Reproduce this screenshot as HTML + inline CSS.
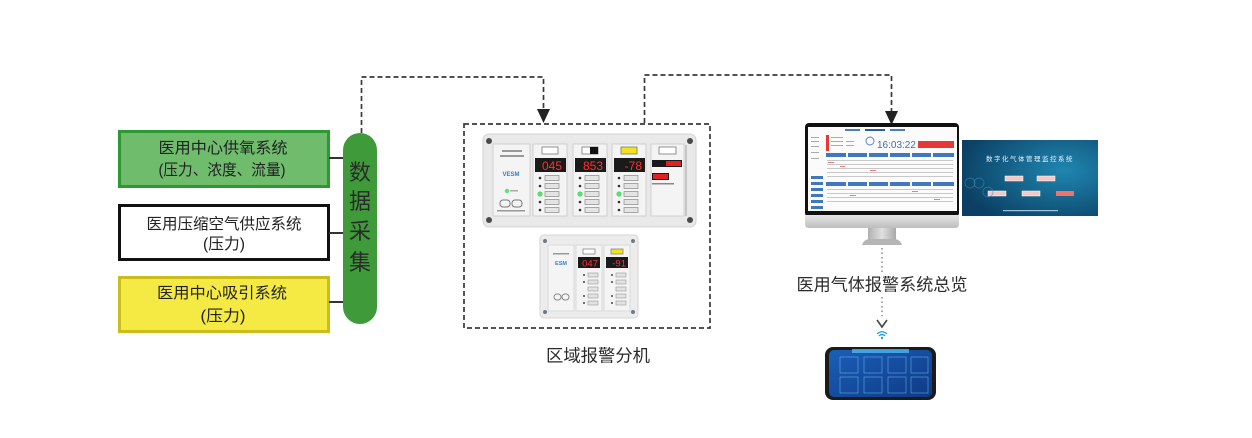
<!DOCTYPE html>
<html><head><meta charset="utf-8"><style>
html,body{margin:0;padding:0;background:#fff;}
svg{display:block;}
text{font-family:"Liberation Sans","Noto Sans CJK SC",sans-serif;}
</style></head><body>
<svg width="1252" height="438" viewBox="0 0 1252 438" xmlns="http://www.w3.org/2000/svg">
<defs>
<linearGradient id="chin" x1="0" y1="0" x2="0" y2="1"><stop offset="0" stop-color="#e6e6e6"/><stop offset="1" stop-color="#bdbdbd"/></linearGradient>
<linearGradient id="neck" x1="0" y1="0" x2="1" y2="0"><stop offset="0" stop-color="#b0b0b0"/><stop offset=".5" stop-color="#e0e0e0"/><stop offset="1" stop-color="#a8a8a8"/></linearGradient>
<radialGradient id="bluep" cx="0.75" cy="0.4" r="0.8"><stop offset="0" stop-color="#1f86b0"/><stop offset="1" stop-color="#0b3f63"/></radialGradient>
<linearGradient id="phone" x1="0" y1="0" x2="1" y2="1"><stop offset="0" stop-color="#1b5fb8"/><stop offset="1" stop-color="#0e3a86"/></linearGradient>
</defs>
<rect width="1252" height="438" fill="#fff"/>

<!-- left boxes -->
<rect x="119.5" y="131.5" width="209" height="55" fill="#6ebc6c" stroke="#2c9a31" stroke-width="3"/>
<text x="223" y="153" font-size="15.5" fill="#222" text-anchor="middle" textLength="129" lengthAdjust="spacingAndGlyphs">医用中心供氧系统</text>
<text x="222" y="175" font-size="15.5" fill="#222" text-anchor="middle" textLength="127" lengthAdjust="spacingAndGlyphs">(压力、浓度、流量)</text>

<rect x="119.5" y="205.5" width="209" height="54" fill="#fff" stroke="#111" stroke-width="3"/>
<text x="224" y="229" font-size="15.5" fill="#222" text-anchor="middle" textLength="155" lengthAdjust="spacingAndGlyphs">医用压缩空气供应系统</text>
<text x="224" y="249" font-size="15.5" fill="#222" text-anchor="middle" textLength="42" lengthAdjust="spacingAndGlyphs">(压力)</text>

<rect x="119.5" y="277.5" width="209" height="54" fill="#f4ea43" stroke="#cbbd1a" stroke-width="3"/>
<text x="222" y="298" font-size="15.5" fill="#222" text-anchor="middle" textLength="130" lengthAdjust="spacingAndGlyphs">医用中心吸引系统</text>
<text x="223" y="321" font-size="15.5" fill="#222" text-anchor="middle" textLength="45" lengthAdjust="spacingAndGlyphs">(压力)</text>

<!-- connectors -->
<g stroke="#333" stroke-width="2">
<line x1="329" y1="158" x2="344" y2="158"/>
<line x1="329" y1="233" x2="344" y2="233"/>
<line x1="329" y1="302" x2="344" y2="302"/>
</g>

<!-- pill -->
<rect x="343" y="133" width="34" height="191" rx="17" fill="#3f9b3a"/>
<g font-size="22" fill="#2a2a2a" text-anchor="middle">
<text x="360" y="180">数</text>
<text x="360" y="209">据</text>
<text x="360" y="239">采</text>
<text x="360" y="270">集</text>
</g>

<!-- dashed lines -->
<g fill="none" stroke="#3a3a3a" stroke-width="1.7" stroke-dasharray="5 3">
<polyline points="361.5,133 361.5,77 543.5,77 543.5,110"/>
<polyline points="644.5,123 644.5,75 891.5,75 891.5,112"/>
<rect x="464" y="124" width="246" height="204"/>
</g>
<polygon points="537,109 550,109 543.5,123" fill="#222"/>
<polygon points="885,111 898,111 891.5,125" fill="#222"/>

<!-- big alarm panel -->
<rect x="483" y="134" width="213" height="93" rx="6" fill="#e9e9e9" stroke="#d2d2d2"/>
<g fill="#4a4a4a"><circle cx="489" cy="141" r="3"/><circle cx="690" cy="141" r="3"/><circle cx="489" cy="220" r="3"/><circle cx="690" cy="220" r="3"/></g>
<rect x="493" y="144" width="37" height="72" fill="#f4f4f4" stroke="#d0d0d0"/>
<rect x="502" y="150" width="20" height="2" fill="#999"/>
<rect x="500" y="155" width="24" height="2" fill="#999"/>
<text x="511" y="176" font-size="6" fill="#2f7fd0" text-anchor="middle" font-weight="bold">VESM</text>
<circle cx="507" cy="191" r="2.2" fill="#5fe07a"/>
<rect x="510" y="190" width="8" height="1.5" fill="#aaa"/>
<rect x="500" y="200" width="10" height="7" rx="3" fill="none" stroke="#777"/>
<rect x="512" y="200" width="10" height="7" rx="3" fill="none" stroke="#777"/>
<rect x="497" y="210" width="28" height="1.5" fill="#999"/>

<g>
<rect x="533" y="144" width="34" height="72" fill="#f4f4f4" stroke="#d0d0d0"/>
<rect x="542" y="147" width="16" height="7" fill="#fff" stroke="#777" stroke-width=".8"/>
<rect x="535" y="158" width="31" height="14" fill="#1a1a1a"/>
<text x="562" y="170" font-size="12" fill="#ff3030" text-anchor="end" font-family="Liberation Mono">045</text>
<rect x="573" y="144" width="34" height="72" fill="#f4f4f4" stroke="#d0d0d0"/>
<rect x="582" y="147" width="16" height="7" fill="#fff" stroke="#777" stroke-width=".8"/>
<rect x="590" y="147" width="8" height="7" fill="#111"/>
<rect x="575" y="158" width="31" height="14" fill="#1a1a1a"/>
<text x="603" y="170" font-size="12" fill="#ff3030" text-anchor="end" font-family="Liberation Mono">853</text>
<rect x="612" y="144" width="34" height="72" fill="#f4f4f4" stroke="#d0d0d0"/>
<rect x="621" y="147" width="16" height="7" fill="#f3e21b" stroke="#777" stroke-width=".8"/>
<rect x="614" y="158" width="31" height="14" fill="#1a1a1a"/>
<text x="642" y="170" font-size="12" fill="#ff3030" text-anchor="end" font-family="Liberation Mono">-78</text>
<rect x="651" y="144" width="33" height="72" fill="#f4f4f4" stroke="#d0d0d0"/>
<rect x="659" y="147" width="17" height="7" fill="#fff" stroke="#777" stroke-width=".8"/>
<rect x="652" y="160" width="30" height="7" fill="#1a1a1a"/>
<rect x="666" y="161" width="15" height="5" fill="#e02020"/>
<rect x="652" y="173" width="17" height="7" fill="#1a1a1a"/>
<rect x="653" y="174" width="15" height="5" fill="#e02020"/>
<rect x="652" y="183" width="22" height="1.5" fill="#888"/>
<line x1="686" y1="145" x2="686" y2="216" stroke="#c6c6c6" stroke-width="2"/>
</g>
<g fill="#333">
<circle cx="540" cy="178" r="1.3"/><circle cx="540" cy="186" r="1.3"/><circle cx="540" cy="202" r="1.3"/><circle cx="540" cy="210" r="1.3"/>
<circle cx="580" cy="178" r="1.3"/><circle cx="580" cy="186" r="1.3"/><circle cx="580" cy="202" r="1.3"/><circle cx="580" cy="210" r="1.3"/>
<circle cx="619" cy="178" r="1.3"/><circle cx="619" cy="186" r="1.3"/><circle cx="619" cy="202" r="1.3"/><circle cx="619" cy="210" r="1.3"/>
</g>
<g fill="#52e06e"><circle cx="540" cy="194" r="2.6"/><circle cx="580" cy="194" r="2.6"/><circle cx="619" cy="194" r="2.6"/></g>
<g fill="#e4e4e4" stroke="#888" stroke-width=".7">
<rect x="545" y="175.5" width="14" height="5"/><rect x="545" y="183.5" width="14" height="5"/><rect x="545" y="191.5" width="14" height="5"/><rect x="545" y="199.5" width="14" height="5"/><rect x="545" y="207.5" width="14" height="5"/>
<rect x="585" y="175.5" width="14" height="5"/><rect x="585" y="183.5" width="14" height="5"/><rect x="585" y="191.5" width="14" height="5"/><rect x="585" y="199.5" width="14" height="5"/><rect x="585" y="207.5" width="14" height="5"/>
<rect x="624" y="175.5" width="14" height="5"/><rect x="624" y="183.5" width="14" height="5"/><rect x="624" y="191.5" width="14" height="5"/><rect x="624" y="199.5" width="14" height="5"/><rect x="624" y="207.5" width="14" height="5"/>
</g>

<!-- small alarm panel -->
<rect x="540" y="235" width="98" height="83" rx="4" fill="#ececec" stroke="#d4d4d4"/>
<g fill="#6a7a8a"><circle cx="545" cy="241" r="2"/><circle cx="633" cy="241" r="2"/><circle cx="545" cy="312" r="2"/><circle cx="633" cy="312" r="2"/></g>
<rect x="548" y="245" width="26" height="66" fill="#f4f4f4" stroke="#dadada"/>
<rect x="553" y="253" width="16" height="1.5" fill="#999"/>
<text x="561" y="265" font-size="5.5" fill="#2f7fd0" text-anchor="middle" font-weight="bold">ESM</text>
<rect x="554" y="294" width="7" height="6" rx="3" fill="none" stroke="#888"/>
<rect x="562" y="294" width="7" height="6" rx="3" fill="none" stroke="#888"/>
<rect x="576" y="245" width="26" height="66" fill="#f4f4f4" stroke="#dadada"/>
<rect x="604" y="245" width="26" height="66" fill="#f4f4f4" stroke="#dadada"/>
<rect x="583" y="249" width="12" height="5" fill="#fff" stroke="#777" stroke-width=".7"/>
<rect x="611" y="249" width="12" height="5" fill="#f3e21b" stroke="#777" stroke-width=".7"/>
<rect x="578" y="257" width="22" height="11" fill="#1a1a1a"/>
<text x="598" y="266.5" font-size="9.5" fill="#ff3030" text-anchor="end" font-family="Liberation Mono">047</text>
<rect x="606" y="257" width="22" height="11" fill="#1a1a1a"/>
<text x="626" y="266.5" font-size="9.5" fill="#ff3030" text-anchor="end" font-family="Liberation Mono">-91</text>
<g fill="#e2e2e2" stroke="#999" stroke-width=".6">
<rect x="588" y="273" width="10" height="4"/><rect x="588" y="280" width="10" height="4"/><rect x="588" y="287" width="10" height="4"/><rect x="588" y="294" width="10" height="4"/><rect x="588" y="301" width="10" height="4"/>
<rect x="616" y="273" width="10" height="4"/><rect x="616" y="280" width="10" height="4"/><rect x="616" y="287" width="10" height="4"/><rect x="616" y="294" width="10" height="4"/><rect x="616" y="301" width="10" height="4"/>
</g>
<g fill="#444"><circle cx="584" cy="275" r="1"/><circle cx="584" cy="282" r="1"/><circle cx="584" cy="296" r="1"/><circle cx="584" cy="303" r="1"/><circle cx="612" cy="275" r="1"/><circle cx="612" cy="282" r="1"/><circle cx="612" cy="296" r="1"/><circle cx="612" cy="303" r="1"/></g>

<text x="598" y="361.5" font-size="17" fill="#2a2a2a" text-anchor="middle" textLength="104" lengthAdjust="spacingAndGlyphs">区域报警分机</text>

<!-- monitor -->
<rect x="805" y="123" width="154" height="94" rx="4" fill="#111"/>
<rect x="808" y="127" width="149" height="84" fill="#fbfbfb"/>
<path d="M805 215 H959 V224 Q959 228 955 228 H809 Q805 228 805 224 Z" fill="url(#chin)"/>
<rect x="868" y="228" width="28" height="12" fill="url(#neck)"/>
<path d="M862 245 Q864 239 870 239 H894 Q900 239 902 245 Z" fill="#b5b5b5"/>
<!-- screen content -->
<rect x="845" y="129" width="15" height="2" fill="#4a7fc0"/>
<rect x="865" y="129" width="20" height="2" fill="#2a5fa0"/>
<rect x="890" y="129" width="15" height="2" fill="#4a7fc0"/>
<rect x="826" y="135" width="3" height="16" fill="#e53935"/>
<g fill="#aaa"><rect x="811" y="137" width="8" height="1"/><rect x="811" y="141" width="8" height="1"/><rect x="811" y="146" width="8" height="1"/><rect x="811" y="152" width="8" height="1"/><rect x="811" y="158" width="8" height="1"/>
<rect x="831" y="137" width="12" height="1"/><rect x="831" y="141" width="12" height="1"/><rect x="831" y="145" width="12" height="1"/><rect x="846" y="141" width="8" height="1"/><rect x="846" y="145" width="8" height="1"/></g>
<g fill="#3f78c0"><rect x="811" y="176" width="12" height="3"/><rect x="811" y="182" width="12" height="3"/><rect x="811" y="188" width="12" height="3"/><rect x="811" y="194" width="12" height="3"/><rect x="811" y="200" width="12" height="3"/><rect x="811" y="206" width="12" height="3"/></g>
<circle cx="870" cy="141" r="4" fill="none" stroke="#4a7fc0" stroke-width=".9"/>
<text x="877" y="148" font-size="10" fill="#3a6fb0">16:03:22</text>
<rect x="918" y="141" width="36" height="7" fill="#e53935"/>
<g fill="#3f78c0">
<rect x="826" y="153" width="20" height="4"/><rect x="848" y="153" width="19" height="4"/><rect x="869" y="153" width="19" height="4"/><rect x="890" y="153" width="20" height="4"/><rect x="912" y="153" width="19" height="4"/><rect x="933" y="153" width="21" height="4"/>
<rect x="826" y="182" width="20" height="4"/><rect x="848" y="182" width="19" height="4"/><rect x="869" y="182" width="19" height="4"/><rect x="890" y="182" width="20" height="4"/><rect x="912" y="182" width="19" height="4"/><rect x="933" y="182" width="21" height="4"/>
</g>
<g fill="#c8c8c8">
<rect x="827" y="160" width="126" height="1"/><rect x="827" y="164" width="126" height="1"/><rect x="827" y="168" width="126" height="1"/><rect x="827" y="172" width="126" height="1"/><rect x="827" y="176" width="126" height="1"/>
<rect x="827" y="189" width="126" height="1"/><rect x="827" y="193" width="126" height="1"/><rect x="827" y="197" width="126" height="1"/><rect x="827" y="201" width="126" height="1"/>
</g>
<g fill="#e58080"><rect x="828" y="162" width="6" height="1"/><rect x="840" y="166" width="5" height="1"/><rect x="870" y="170" width="6" height="1"/><rect x="912" y="191" width="6" height="1"/><rect x="850" y="195" width="6" height="1"/><rect x="934" y="199" width="6" height="1"/></g>

<!-- blue system panel -->
<rect x="962" y="140" width="136" height="76" fill="url(#bluep)"/>
<text x="1030" y="161" font-size="6.5" fill="#e8f4ff" text-anchor="middle" font-family="Liberation Serif,Noto Serif CJK SC,serif" letter-spacing="1.5">数字化气体管理监控系统</text>
<g fill="#f3c9c4" stroke="#fff" stroke-width=".5">
<rect x="1005" y="176" width="18" height="5"/><rect x="1037" y="176" width="18" height="5"/>
<rect x="988" y="191" width="18" height="5"/><rect x="1022" y="191" width="18" height="5"/>
</g>
<rect x="1056" y="191" width="18" height="5" fill="#f07268"/>
<g fill="none" stroke="#3d8fb5" stroke-width=".7" opacity=".7">
<circle cx="970" cy="183" r="5"/><circle cx="979" cy="183" r="5"/><circle cx="988" cy="192" r="5"/>
</g>
<rect x="1003" y="210" width="55" height="1.2" fill="#9cc4dc"/>

<!-- monitor label -->
<text x="882" y="290.5" font-size="17" fill="#2a2a2a" text-anchor="middle" textLength="171" lengthAdjust="spacingAndGlyphs">医用气体报警系统总览</text>

<!-- dotted line -->
<line x1="882" y1="248" x2="882" y2="273" stroke="#888" stroke-width="1.5" stroke-dasharray="1.5 3"/>
<line x1="882" y1="297" x2="882" y2="316" stroke="#888" stroke-width="1.5" stroke-dasharray="1.5 3"/>
<polyline points="877,320 882,327 887,320" fill="none" stroke="#444" stroke-width="1.6"/>
<!-- wifi -->
<g fill="none" stroke="#1e9be0" stroke-width="1.3" stroke-linecap="round">
<path d="M877.5 333.5 Q882 330 886.5 333.5"/>
<path d="M879.3 335.6 Q882 333.6 884.7 335.6"/>
</g>
<circle cx="882" cy="338" r="1.2" fill="#1e9be0"/>

<!-- phone -->
<rect x="825" y="347" width="111" height="53" rx="8" fill="#1b1b1b"/>
<rect x="829" y="350" width="103" height="47" rx="5" fill="url(#phone)"/>
<rect x="852" y="349" width="57" height="4" fill="#4fb6f0" opacity=".8"/>
<g fill="none" stroke="#7cc6ff" stroke-width=".6" opacity=".75">
<rect x="840" y="357" width="18" height="16"/><rect x="864" y="357" width="18" height="16"/><rect x="888" y="357" width="18" height="16"/><rect x="911" y="357" width="17" height="16"/>
<rect x="840" y="377" width="18" height="16"/><rect x="864" y="377" width="18" height="16"/><rect x="888" y="377" width="18" height="16"/><rect x="911" y="377" width="17" height="16"/>
</g>
</svg>
</body></html>
